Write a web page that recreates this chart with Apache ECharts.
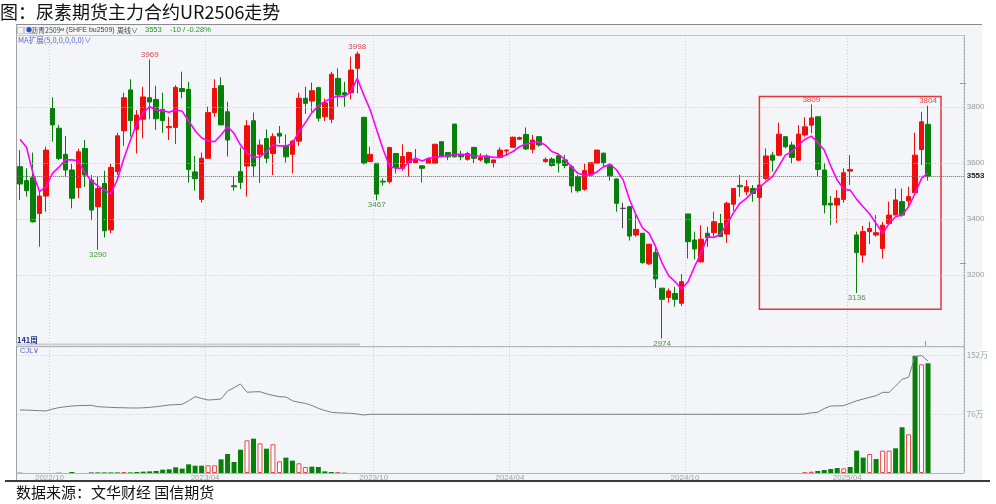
<!DOCTYPE html>
<html>
<head>
<meta charset="utf-8">
<title>尿素期货主力合约UR2506走势</title>
<script src="https://cdn.jsdelivr.net/npm/echarts@6.0.0/dist/echarts.min.js"></script>
<style>
html, body { margin: 0; padding: 0; background: #fff; }
#chart { width: 996px; height: 504px; }
</style>
</head>
<body>
<div id="chart"></div>
<script>
// 周线 OHLC（元/吨），按周从左到右
const openPx = [
  3587,3537,3547,3420,3482,3795,3724,3631,3575,3512,
  3652,3539,3444,3527,3361,3569,3715,3861,3720,3756,
  3833,3827,3791,3726,3727,3866,3863,3568,3470,3617,
  3780,3876,3783,3519,3569,3589,3751,3631,3687,3634,
  3706,3661,3631,3678,3831,3821,3869,3765,3756,3902,
  3851,3851,3938,3763,3605,3599,3535,3533,3634,3581,
  3601,3601,3590,3599,3599,3676,3637,3739,3631,3613,
  3656,3611,3625,3601,3620,3643,3656,3685,3702,3649,
  3694,3605,3614,3626,3611,3587,3551,3506,3557,3599,
  3635,3593,3543,3438,3444,3343,3349,3240,3280,3153,
  3120,3134,3099,3418,3325,3247,3349,3351,3384,3346,
  3453,3520,3497,3509,3477,3545,3628,3628,3694,3664,
  3610,3700,3735,3765,3575,3456,3450,3470,3571,3343,
  3271,3355,3343,3295,3384,3414,3462,3465,3494,3648,
  3738
];
const closePx = [
  3525,3501,3390,3482,3646,3736,3616,3575,3474,3640,
  3557,3432,3509,3358,3584,3697,3833,3751,3771,3836,
  3818,3758,3751,3730,3870,3855,3577,3544,3617,3780,
  3866,3736,3682,3515,3531,3733,3589,3664,3617,3694,
  3696,3622,3678,3831,3813,3858,3760,3815,3917,3843,
  3843,3932,3989,3599,3631,3489,3532,3655,3584,3623,
  3637,3611,3581,3616,3667,3625,3622,3622,3622,3634,
  3617,3620,3601,3611,3646,3646,3692,3691,3650,3682,
  3664,3613,3591,3599,3591,3518,3501,3573,3601,3646,
  3601,3554,3456,3438,3339,3363,3244,3310,3186,3113,
  3143,3113,3176,3319,3293,3328,3334,3390,3337,3456,
  3509,3515,3515,3491,3521,3625,3610,3703,3658,3620,
  3703,3729,3761,3577,3450,3450,3474,3565,3577,3280,
  3355,3366,3351,3378,3414,3468,3414,3480,3628,3747,
  3553
];
const lowPx = [
  3468,3480,3387,3301,3426,3676,3610,3551,3438,3474,
  3515,3396,3290,3334,3349,3557,3661,3694,3634,3688,
  3756,3718,3708,3682,3668,3831,3530,3501,3458,3617,
  3765,3736,3623,3501,3507,3480,3549,3529,3599,3557,
  3670,3601,3563,3661,3775,3783,3748,3750,3742,3801,
  3801,3827,3849,3595,3605,3467,3519,3527,3563,3572,
  3551,3599,3530,3599,3596,3622,3610,3620,3610,3608,
  3599,3605,3596,3584,3617,3625,3656,3682,3646,3635,
  3658,3601,3587,3566,3581,3494,3494,3501,3553,3596,
  3587,3537,3426,3367,3323,3337,3240,3236,3153,2974,
  3101,3087,3089,3259,3256,3244,3301,3337,3337,3315,
  3429,3479,3485,3462,3470,3539,3569,3625,3652,3599,
  3608,3694,3706,3551,3420,3378,3387,3458,3521,3136,
  3244,3311,3337,3259,3384,3414,3408,3446,3491,3593,
  3537
];
const highPx = [
  3646,3581,3637,3497,3658,3834,3736,3696,3596,3651,
  3682,3557,3551,3572,3599,3708,3851,3899,3789,3872,
  3969,3876,3851,3765,3878,3926,3890,3625,3637,3801,
  3899,3906,3819,3553,3656,3753,3780,3684,3720,3706,
  3732,3702,3682,3851,3872,3887,3872,3830,3926,3938,
  3890,3980,3998,3765,3658,3599,3545,3658,3634,3667,
  3640,3650,3590,3620,3667,3676,3637,3739,3643,3640,
  3656,3634,3631,3611,3656,3649,3694,3694,3727,3700,
  3694,3620,3620,3632,3629,3593,3557,3599,3601,3646,
  3637,3599,3545,3458,3447,3420,3349,3311,3301,3153,
  3152,3158,3203,3418,3355,3378,3372,3426,3418,3462,
  3509,3557,3539,3521,3569,3652,3640,3744,3694,3676,
  3735,3763,3809,3765,3601,3482,3503,3581,3628,3355,
  3375,3390,3414,3390,3462,3509,3509,3515,3708,3783,
  3804
];
// MA5
const ma5 = [
  3685,3656,3563,3498,3515,3563,3585,3611,3611,3608,
  3565,3536,3518,3503,3490,3540,3615,3680,3740,3780,
  3801,3789,3787,3781,3790,3785,3750,3715,3690,3679,
  3676,3700,3730,3706,3664,3635,3620,3622,3640,3664,
  3661,3661,3670,3712,3744,3780,3804,3820,3831,3839,
  3837,3855,3902,3843,3789,3718,3647,3587,3581,3581,
  3605,3617,3607,3617,3620,3623,3627,3630,3631,3629,
  3626,3625,3623,3620,3620,3629,3641,3658,3668,3673,
  3676,3664,3641,3632,3613,3587,3563,3557,3557,3569,
  3587,3595,3575,3539,3468,3414,3367,3349,3301,3242,
  3198,3176,3150,3176,3230,3277,3337,3334,3346,3382,
  3422,3456,3474,3497,3513,3533,3551,3589,3628,3640,
  3664,3684,3696,3673,3646,3589,3539,3506,3503,3470,
  3444,3418,3384,3349,3384,3408,3414,3444,3491,3545,
  3565
];
// 成交量（万手）
const volume = [
  0.4,0,0,0,0,0,0.4,0,1.3,0,
  0,0.8,0.8,0.8,0.8,0.8,1.3,0.8,1.3,1.7,
  2.1,2.6,4.3,4.7,7.3,5.6,11.2,9.4,9.4,9.9,
  9.9,17.6,24.5,14.2,30,42.1,44.2,38.2,31.3,37,
  15,19.8,15.9,12.5,7.7,8.2,7.7,2.1,1.3,0.4,
  0.4,0,0,0,0,0,0,0,0,0,
  0,0,0,0,0,0,0,0,0,0,
  0,0,0,0,0,0,0,0,0,0,
  0,0,0,0,0,0,0,0,0,0,
  0,0,0,0,0,0,0,0,0,0,
  0,0,0,0,0,0,0,0,0,0,
  0,0,0,0,0,0,0,0,0,0,
  0,0.4,1.7,2.6,3.9,5.2,6.4,6,7.7,28.8,
  19.8,24.5,18,28.8,28.8,31.8,58.9,49.8,151,140,
  141.3
];
const volUpWeeks = [16,29,30,35,37,39,40,43,44,49,121,122,127,131,133,134,137,139];
// 持仓量（万手）
const openInt = [
  81.2,81,80.7,80.3,79.9,82.4,84.2,85.3,86.3,86.8,
  87,87.2,85.4,85,84.5,84.2,84,83.8,83.7,84,
  84.6,85.4,86.5,87.6,88,88.5,93,98.3,96,94,
  94.5,95.3,105.6,110,114.6,104,104.5,104.7,102,100,
  98.3,97.9,93.1,91,89.7,87,83.3,80.5,78.2,77.5,
  77.2,76.9,76,74.7,75.6,75.6,75.6,75.6,75.6,75.6,
  75.6,75.6,75.6,75.6,75.6,75.6,75.6,75.6,75.6,75.6,
  75.6,75.6,75.6,75.6,75.6,75.6,75.6,75.6,75.6,75.6,
  75.6,75.6,75.6,75.6,75.6,75.6,75.6,75.6,75.6,75.6,
  75.6,75.6,75.6,75.6,75.6,75.6,75.6,75.6,75.6,75.6,
  75.6,75.6,75.6,75.6,75.6,75.6,75.6,75.6,75.6,75.6,
  75.6,75.6,75.6,75.6,75.6,75.6,75.6,75.6,75.6,75.6,
  75.6,76,77.5,78.2,83,86.3,86.5,86.7,90,93,
  95.3,97.5,99.5,103.9,103.9,112,120.7,123.3,150,151.3,
  144.4
];

const monthTicks = ['2022/10', '2023/04', '2023/10', '2024/04', '2024/10', '2025/04'];
const monthTickWeek = [5, 29, 55, 76, 103, 128];
const priceTicks = [3200, 3400, 3600, 3800];
const volTicks = [76, 152];
const highMarkWeeks = [20, 52, 122, 140];
const lowMarkWeeks = [12, 55, 99, 129];
const boxWeeks = [114, 142];
const boxPrices = [3078, 3837];

const weekCount = 146; // 141 周 + 右侧空白
const weeks = Array.from({ length: weekCount }, (_, i) => String(i));
const lastPx = closePx[closePx.length - 1];

const NUM_FONT = '"Liberation Sans", Arial, sans-serif';
const CJK_FONT = '"Noto Sans CJK SC", sans-serif';
const RED = '#f20d0d';
const GREEN = '#07800a';

const isMonthTick = (idx) => monthTickWeek.indexOf(idx) >= 0;

const kData = openPx.map((o, i) => [o, closePx[i], lowPx[i], highPx[i]]);
const volData = volume.map((v, i) => {
    if (!v) return '-';
    const up = volUpWeeks.indexOf(i) >= 0;
    return {
        value: v,
        itemStyle: up
            ? { color: '#ffffff', borderColor: '#e8474a', borderWidth: 1 }
            : { color: GREEN }
    };
});

function txt(x, y, text, fill, font, extra) {
    return Object.assign({
        type: 'text', x: x, y: y, silent: true, z: 50,
        style: { text: text, fill: fill, font: font, textVerticalAlign: 'middle' }
    }, extra || {});
}
function hline(x1, x2, y, color, width) {
    return { type: 'line', silent: true, z: 40, shape: { x1: x1, y1: y, x2: x2, y2: y }, style: { stroke: color, lineWidth: width || 1 } };
}
function vline(x, y1, y2, color, width) {
    return { type: 'line', silent: true, z: 40, shape: { x1: x, y1: y1, x2: x, y2: y2 }, style: { stroke: color, lineWidth: width || 1 } };
}

const chart = echarts.init(document.getElementById('chart'));

const option = {
    animation: false,
    backgroundColor: '#ffffff',
    grid: [
        { left: 16.76, right: 32.3, top: 35, height: 311 },
        { left: 16.76, right: 32.3, top: 347, height: 126 }
    ],
    xAxis: [
        {
            type: 'category', data: weeks, gridIndex: 0, boundaryGap: true,
            axisLine: { show: false }, axisTick: { show: false }, axisLabel: { show: false },
            splitLine: { show: true, interval: isMonthTick, lineStyle: { color: '#c9c9cf', type: [1, 2] } }
        },
        {
            type: 'category', data: weeks, gridIndex: 1, boundaryGap: true,
            axisLine: { show: false }, axisTick: { show: false },
            axisLabel: {
                interval: isMonthTick,
                formatter: (v, idx) => monthTicks[monthTickWeek.indexOf(idx)] || '',
                color: '#a0a0a0', fontSize: 8, fontFamily: NUM_FONT, margin: 1,
                padding: [0, 6, 0, 0]
            },
            splitLine: { show: true, interval: isMonthTick, lineStyle: { color: '#c9c9cf', type: [1, 2] } }
        }
    ],
    yAxis: [
        {
            type: 'value', gridIndex: 0, min: 2946.5, max: 4057, scale: true,
            axisLine: { show: false }, axisTick: { show: false }, axisLabel: { show: false },
            splitLine: { show: false }
        },
        {
            type: 'value', gridIndex: 1, position: 'right', min: 0, max: 162.3, interval: 76,
            axisLine: { show: false }, axisTick: { show: false },
            axisLabel: {
                formatter: (v) => volTicks.indexOf(v) >= 0 ? v + '万' : '',
                color: '#a0a0a0', fontSize: 8, fontFamily: CJK_FONT, margin: 3
            },
            splitLine: { show: true, lineStyle: { color: '#cfcfd4', type: [1, 2] } }
        }
    ],
    series: [
        {
            // 价格网格线与右侧刻度
            name: 'grid', type: 'line', xAxisIndex: 0, yAxisIndex: 0, data: [], z: 1,
            markLine: {
                silent: true, symbol: 'none', precision: 0, animation: false,
                label: { position: 'end', formatter: '{c}', distance: 3, fontSize: 8, fontFamily: NUM_FONT, color: '#9a9a9a' },
                lineStyle: { color: '#cdcdd2', type: [1, 2], width: 1 },
                data: priceTicks.map(v => ({ yAxis: v })).concat([{
                    yAxis: lastPx,
                    lineStyle: { color: '#6a6a6a', type: [1, 1], width: 1 },
                    label: { color: '#222', fontWeight: 'bold' }
                }])
            }
        },
        {
            name: 'K线', type: 'candlestick', xAxisIndex: 0, yAxisIndex: 0, z: 3,
            barWidth: 5,
            data: kData,
            itemStyle: {
                color: RED, color0: GREEN, borderColor: RED, borderColor0: GREEN,
                borderColorDoji: '#444', borderWidth: 1
            },
            markPoint: {
                symbol: 'circle', symbolSize: 0, silent: true, animation: false,
                label: { show: true, formatter: '{c}', fontSize: 8, fontFamily: NUM_FONT },
                data: highMarkWeeks.map(i => ({
                    coord: [String(i), highPx[i]], value: highPx[i],
                    label: { position: 'top', distance: 1, color: '#e2474a' }
                })).concat(lowMarkWeeks.map(i => ({
                    coord: [String(i), lowPx[i]], value: lowPx[i],
                    label: { position: 'bottom', distance: 1, color: '#3f9a3f' }
                })))
            },
            markArea: {
                silent: true,
                itemStyle: { color: 'rgba(0,0,0,0)', borderColor: '#e3363a', borderWidth: 1.5 },
                data: [[
                    { coord: [String(boxWeeks[0]), boxPrices[1]] },
                    { coord: [String(boxWeeks[1]), boxPrices[0]] }
                ]]
            }
        },
        {
            name: 'MA5', type: 'line', xAxisIndex: 0, yAxisIndex: 0, z: 5,
            data: ma5, symbol: 'none', smooth: false,
            lineStyle: { color: '#ff00ff', width: 1.6 }
        },
        {
            name: '成交量', type: 'bar', xAxisIndex: 1, yAxisIndex: 1, z: 3,
            barWidth: 5, data: volData
        },
        {
            name: '持仓量', type: 'line', xAxisIndex: 1, yAxisIndex: 1, z: 4,
            data: openInt, symbol: 'none',
            lineStyle: { color: '#7c7c7c', width: 1 }
        }
    ],
    graphic: [
        { type: 'rect', silent: true, z: -100, shape: { x: 16, y: 24, width: 966, height: 457 }, style: { fill: '#f4f5f8' } },
        hline(16, 982, 24.5, '#8a8a8a'),
        vline(16.5, 24, 481, '#a0a0a0'),
        hline(16, 964, 35.5, '#c4c4c8'),
        vline(964.5, 35, 473, '#b0b0b4'),
        hline(16, 964, 346.5, '#b4b4b8'),
        hline(16, 964, 473.5, '#b4b4b8'),
        hline(960, 966, 83.5, '#999'),
        hline(960, 966, 263.5, '#999'),
        vline(925.5, 341, 346, '#999'),
        { type: 'rect', silent: true, z: 40, shape: { x: 16, y: 343.5, width: 344, height: 2 }, style: { fill: '#cfcfd2' } },
        hline(5, 990, 481, '#3a3a3a', 2),
        txt(0, 12, '图：尿素期货主力合约UR2506走势', '#111', '18px ' + CJK_FONT),
        txt(16, 492, '数据来源：文华财经 国信期货', '#111', '15px ' + CJK_FONT),
        txt(17, 30, '□□', '#555', '7px ' + CJK_FONT),
        txt(26, 30, '●', '#2255cc', '6px ' + CJK_FONT),
        txt(31, 30, '沥青2509ᴹ', '#444', '7px ' + CJK_FONT),
        txt(66, 30, '(SHFE bu2509)', '#444', '7px ' + NUM_FONT),
        txt(117, 30, '周线∨', '#444', '7px ' + CJK_FONT),
        txt(145, 30, String(lastPx), '#1a9a1a', '7.5px ' + NUM_FONT),
        txt(170, 30, '-10 / -0.28%', '#1a9a1a', '7.5px ' + NUM_FONT),
        txt(18, 40, 'MA扩展(5,0,0,0,0,0)∨', '#5a66c8', '7.5px ' + CJK_FONT),
        txt(17, 340, '141周', '#22338a', 'bold 7.5px ' + CJK_FONT),
        txt(20, 351, 'CJL∨', '#5a66c8', '7.5px ' + NUM_FONT)
    ]
};

chart.setOption(option);
</script>
</body>
</html>
